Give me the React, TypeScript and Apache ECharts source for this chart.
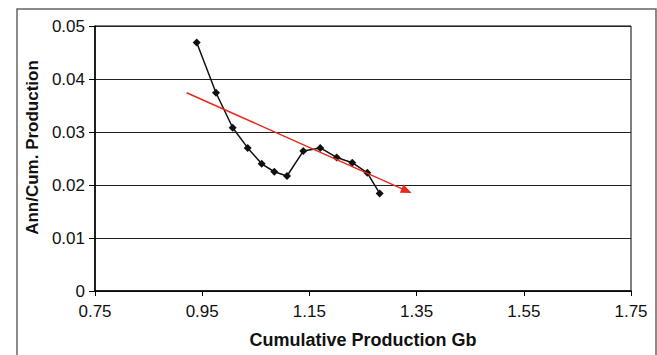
import React, { useEffect, useRef } from "react";
import * as echarts from "echarts";

const cumProduction = [0.9397, 0.9757, 1.0069, 1.0349, 1.061, 1.0845, 1.1082, 1.1386, 1.1703, 1.2009, 1.23, 1.258, 1.2811];
const annCumRatio = [0.0469, 0.0374, 0.0308, 0.027, 0.024, 0.0225, 0.0217, 0.0264, 0.027, 0.0252, 0.0242, 0.0223, 0.0184];
const trendStart = [0.921, 0.0374];
const trendEnd = [1.3315, 0.0189];
const xTitle = "Cumulative Production Gb";
const yTitle = "Ann/Cum. Production";

export default function App() {
  const ref = useRef<HTMLDivElement>(null);
  useEffect(() => {
    if (!ref.current) return;
    const chart = echarts.init(ref.current, undefined, { renderer: "svg" });
    const font = "Liberation Sans, Arial, sans-serif";
    chart.setOption({
      animation: false,
      backgroundColor: "#fff",
      grid: { left: 95, top: 26, width: 536, height: 265, show: true, borderColor: "#000", borderWidth: 1, backgroundColor: "transparent" },
      graphic: [
        { type: "rect", shape: { x: 17, y: 9, width: 639, height: 360 }, style: { fill: "none", stroke: "#666", lineWidth: 1.5 } },
      ],
      xAxis: {
        type: "value",
        min: 0.75,
        max: 1.75,
        interval: 0.2,
        name: xTitle,
        nameLocation: "middle",
        nameGap: 40,
        nameTextStyle: { fontFamily: font, fontSize: 18, fontWeight: "bold", color: "#111" },
        axisLine: { show: true, lineStyle: { color: "#000", width: 1.5 } },
        axisTick: { show: true, length: 5, lineStyle: { color: "#000" } },
        axisLabel: { fontFamily: font, fontSize: 17, color: "#111", margin: 12, formatter: (v: number) => v.toFixed(2) },
        splitLine: { show: false },
      },
      yAxis: {
        type: "value",
        min: 0,
        max: 0.05,
        interval: 0.01,
        name: yTitle,
        nameLocation: "middle",
        nameGap: 45,
        nameTextStyle: { fontFamily: font, fontSize: 17, fontWeight: "bold", color: "#111", padding: [0, 0, 0, 22] },
        axisLine: { show: true, lineStyle: { color: "#000", width: 1.5 } },
        axisTick: { show: true, length: 6, lineStyle: { color: "#000" } },
        axisLabel: { fontFamily: font, fontSize: 17, color: "#111", margin: 10, formatter: (v: number) => (v === 0 ? "0" : v.toFixed(2)) },
        splitLine: { show: true, lineStyle: { color: "#222", width: 1 } },
      },
      series: [
        {
          type: "line",
          data: cumProduction.map((x, i) => [x, annCumRatio[i]]),
          symbol: "diamond",
          symbolSize: 8,
          lineStyle: { color: "#111", width: 1.5 },
          itemStyle: { color: "#111" },
          markLine: {
            silent: true,
            symbol: ["none", "triangle"],
            symbolSize: [9, 11],
            label: { show: false },
            lineStyle: { color: "#e8291c", width: 1.5, type: "solid" },
            data: [[{ coord: trendStart }, { coord: trendEnd }]],
          },
        },
      ],
    });
    return () => chart.dispose();
  }, []);
  return <div ref={ref} style={{ position: "fixed", left: 0, top: 0, width: 657, height: 355 }} />;
}
